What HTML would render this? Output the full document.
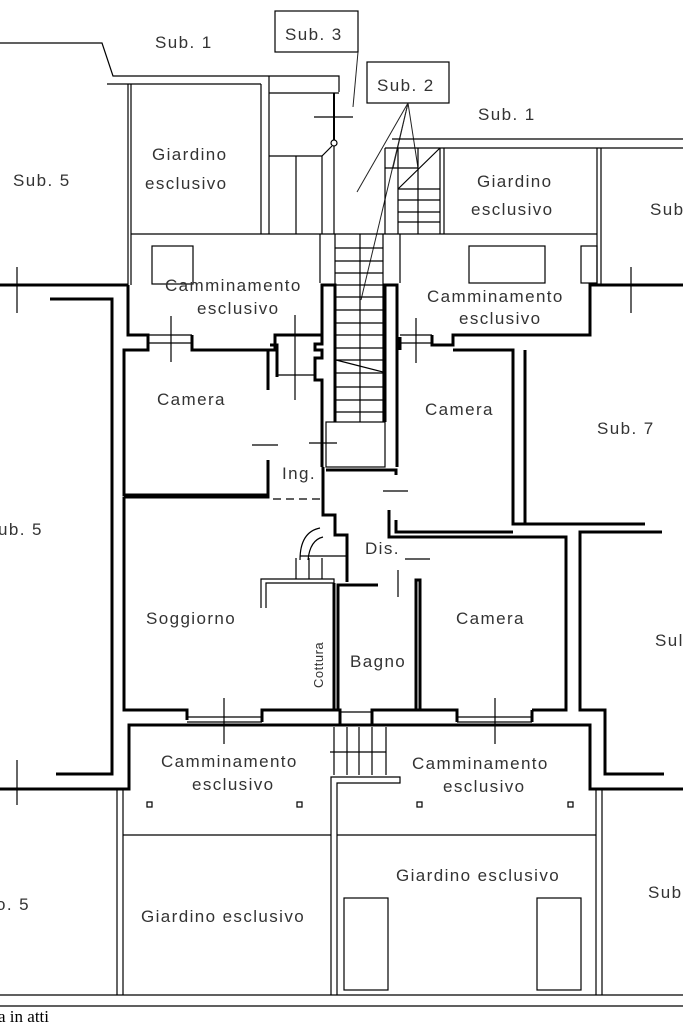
<!DOCTYPE html>
<html><head><meta charset="utf-8"><style>
html,body{margin:0;padding:0;background:#fff}
svg{display:block}
text{font-family:"Liberation Sans",sans-serif;fill:#333;font-size:17px;letter-spacing:1.4px}
.t{stroke:#000;stroke-width:1.2;fill:none}
.k{stroke:#000;stroke-width:3;fill:none}
.g{stroke:#222;stroke-width:1;fill:none}
</style></head><body>
<svg width="683" height="1024" viewBox="0 0 683 1024" xmlns="http://www.w3.org/2000/svg">
<polyline class="t" points="0,43 102,43 113,76 339,76 339,92"/>
<line class="t" x1="107" y1="84" x2="261" y2="84"/>
<line class="t" x1="128" y1="84" x2="128" y2="285"/>
<line class="t" x1="131" y1="84" x2="131" y2="285"/>
<line class="t" x1="261" y1="84" x2="261" y2="234"/>
<line class="t" x1="269" y1="76" x2="269" y2="234"/>
<line class="t" x1="269" y1="93" x2="339" y2="93"/>
<line class="t" x1="269" y1="156" x2="322" y2="156"/>
<line class="t" x1="322" y1="156" x2="332" y2="146"/>
<circle class="t" cx="334" cy="143" r="3"/>
<line class="k" style="stroke-width:2" x1="334" y1="93" x2="334" y2="140"/>
<line class="t" x1="334" y1="146" x2="334" y2="234"/>
<line class="t" x1="322" y1="156" x2="322" y2="234"/>
<line class="t" x1="296" y1="156" x2="296" y2="234"/>
<line class="t" x1="314" y1="117" x2="353" y2="117"/>
<rect class="t" x="275" y="11" width="83" height="41"/>
<text x="285" y="40">Sub. 3</text>
<line class="g" x1="358" y1="52" x2="353" y2="107"/>
<rect class="t" x="367" y="62" width="82" height="41"/>
<text x="377" y="91">Sub. 2</text>
<line class="g" x1="408" y1="103" x2="357" y2="192"/>
<line class="g" x1="408" y1="103" x2="361" y2="300"/>
<line class="g" x1="408" y1="103" x2="418" y2="168"/>
<line class="g" x1="408" y1="103" x2="393" y2="168"/>
<text x="155" y="48">Sub. 1</text>
<text x="478" y="120">Sub. 1</text>
<text x="13" y="186">Sub. 5</text>
<text x="650" y="215">Sub</text>
<line class="t" x1="392" y1="139" x2="683" y2="139"/>
<line class="t" x1="385" y1="148" x2="683" y2="148"/>
<line class="t" x1="385" y1="148" x2="385" y2="234"/>
<line class="t" x1="398" y1="148" x2="398" y2="234"/>
<line class="t" x1="440" y1="148" x2="440" y2="234"/>
<line class="t" x1="444" y1="148" x2="444" y2="234"/>
<line class="t" x1="418" y1="148" x2="418" y2="234"/>
<line class="t" x1="398" y1="189" x2="440" y2="189"/>
<line class="t" x1="398" y1="200" x2="440" y2="200"/>
<line class="t" x1="398" y1="212" x2="440" y2="212"/>
<line class="t" x1="398" y1="222" x2="440" y2="222"/>
<line class="t" x1="385" y1="168" x2="418" y2="168"/>
<line class="t" x1="398" y1="189" x2="440" y2="148"/>
<line class="t" x1="597" y1="148" x2="597" y2="285"/>
<line class="t" x1="601" y1="148" x2="601" y2="285"/>
<line class="t" x1="131" y1="234" x2="597" y2="234"/>
<text x="152" y="160">Giardino</text>
<text x="145" y="189">esclusivo</text>
<text x="477" y="187">Giardino</text>
<text x="471" y="215">esclusivo</text>
<rect class="t" x="152" y="246" width="41" height="38"/>
<rect class="t" x="469" y="246" width="76" height="37"/>
<rect class="t" x="581" y="246" width="16" height="37"/>
<line class="t" x1="320" y1="234" x2="320" y2="283"/>
<line class="t" x1="400" y1="234" x2="400" y2="283"/>
<line class="t" x1="335" y1="234" x2="335" y2="422"/>
<line class="t" x1="383" y1="234" x2="383" y2="422"/>
<line class="t" x1="360" y1="234" x2="360" y2="422"/>
<g class="t">
<line x1="335" y1="248" x2="383" y2="248"/><line x1="335" y1="261" x2="383" y2="261"/>
<line x1="335" y1="273" x2="383" y2="273"/><line x1="335" y1="285" x2="383" y2="285"/>
<line x1="335" y1="297" x2="383" y2="297"/><line x1="335" y1="310" x2="383" y2="310"/>
<line x1="335" y1="323" x2="383" y2="323"/><line x1="335" y1="335" x2="383" y2="335"/>
<line x1="335" y1="348" x2="383" y2="348"/><line x1="335" y1="360" x2="383" y2="360"/>
<line x1="335" y1="373" x2="383" y2="373"/><line x1="335" y1="387" x2="383" y2="387"/>
<line x1="335" y1="400" x2="383" y2="400"/><line x1="335" y1="412" x2="383" y2="412"/>
<line x1="336" y1="360" x2="383" y2="372"/>
</g>
<rect class="t" x="326" y="422" width="59" height="45"/>
<polyline class="k" points="322,467 322,425 322,380 315,380 315,358 322,358 322,350 315,350 315,344 322,344 322,285 335,285 335,422"/>
<polyline class="k" points="397,467 397,285 385,285 385,422"/>
<polyline class="k" points="326,470 396,470 396,475"/>
<line class="k" x1="400" y1="337" x2="400" y2="350"/>
<line class="t" x1="400" y1="335" x2="432" y2="335"/>
<line class="t" x1="400" y1="343" x2="432" y2="343"/>
<polyline class="k" points="432,335 432,345 453,345 453,335 590,335 590,285 601,285 683,285"/>
<line class="t" x1="631" y1="267" x2="631" y2="313"/>
<line class="t" x1="416" y1="318" x2="416" y2="363"/>
<line class="t" x1="295" y1="315" x2="295" y2="400"/>
<line class="t" x1="171" y1="316" x2="171" y2="362"/>
<line class="k" x1="0" y1="285" x2="128" y2="285"/>
<line class="t" x1="17" y1="267" x2="17" y2="313"/>
<polyline class="k" points="50,299 112,299 112,774 56,774"/>
<polyline class="k" points="128,285 128,335 148,335 148,350 124,350 124,495 268,495 268,460"/>
<line class="t" x1="148" y1="335" x2="192" y2="335"/>
<line class="t" x1="148" y1="343" x2="192" y2="343"/>
<polyline class="k" points="192,335 192,350 275,350 275,335 322,335"/>
<line class="k" x1="268" y1="350" x2="268" y2="390"/>
<polyline class="k" points="270,345 277,345 277,377"/>
<line class="t" x1="277" y1="375" x2="314" y2="375"/>
<line class="t" x1="252" y1="445" x2="278" y2="445"/>
<line class="t" x1="309" y1="443" x2="337" y2="443"/>
<line class="t" x1="273" y1="499" x2="322" y2="499" stroke-dasharray="8,5"/>
<polyline class="k" points="453,350 513,350 513,524 645,524"/>
<polyline class="k" points="396,520 396,532 513,532"/>
<polyline class="k" points="389,510 389,537 566,537 566,710 532,710"/>
<polyline class="k" points="662,532 580,532 580,710 605,710 605,774 664,774"/>
<line class="k" x1="525" y1="350" x2="525" y2="524"/>
<line class="t" x1="383" y1="491" x2="408" y2="491"/>
<polyline class="k" points="323,467 323,515 335,515 335,535 347,535 347,582"/>
<path class="t" d="M320,528 Q300,532 300,560 M323,537 Q310,540 308,560"/>
<line class="t" x1="300" y1="556" x2="347" y2="556"/>
<line class="t" x1="296" y1="558" x2="296" y2="579"/>
<line class="t" x1="309" y1="558" x2="309" y2="579"/>
<line class="t" x1="322" y1="558" x2="322" y2="579"/>
<polyline class="t" points="261,608 261,579 334,579 334,583 266,583 266,608"/>
<polyline class="k" points="334,583 334,710"/>
<polyline class="k" points="338,710 338,585 378,585"/>
<line class="t" x1="398" y1="570" x2="398" y2="597"/>
<line class="t" x1="405" y1="559" x2="430" y2="559"/>
<polyline class="k" points="416,710 416,580 420,580 420,710"/>
<polyline class="k" points="124,497 124,710 187,710 187,720"/>
<polyline class="k" points="124,497 268,497 268,465"/>
<line class="t" x1="187" y1="717" x2="262" y2="717"/>
<line class="t" x1="187" y1="722" x2="262" y2="722"/>
<polyline class="k" points="262,722 262,710 340,710 340,725"/>
<polyline class="k" points="372,725 372,710 420,710 457,710 457,722"/>
<line class="t" x1="340" y1="712" x2="372" y2="712"/>
<line class="t" x1="457" y1="717" x2="532" y2="717"/>
<line class="t" x1="457" y1="722" x2="532" y2="722"/>
<polyline class="k" points="532,722 532,710"/>
<line class="t" x1="224" y1="698" x2="224" y2="744"/>
<line class="t" x1="495" y1="698" x2="495" y2="744"/>
<polyline class="k" points="0,789 129,789 129,725 590,725 590,789 683,789"/>
<line class="t" x1="17" y1="760" x2="17" y2="805"/>
<g class="t">
<line x1="334" y1="727" x2="334" y2="775"/><line x1="347" y1="727" x2="347" y2="775"/>
<line x1="359" y1="727" x2="359" y2="775"/><line x1="372" y1="727" x2="372" y2="775"/>
<line x1="386" y1="727" x2="386" y2="775"/>
<line x1="330" y1="752" x2="386" y2="752"/>
<polyline points="331,995 331,777 400,777 400,783 337,783 337,995"/>
</g>
<line class="t" x1="117" y1="789" x2="117" y2="995"/>
<line class="t" x1="123" y1="789" x2="123" y2="995"/>
<line class="t" x1="596" y1="789" x2="596" y2="995"/>
<line class="t" x1="602" y1="789" x2="602" y2="995"/>
<line class="t" x1="123" y1="835" x2="331" y2="835"/>
<line class="t" x1="337" y1="835" x2="596" y2="835"/>
<line class="t" x1="0" y1="995" x2="683" y2="995"/>
<line class="t" x1="0" y1="1006" x2="683" y2="1006"/>
<rect class="t" x="344" y="898" width="44" height="92"/>
<rect class="t" x="537" y="898" width="44" height="92"/>
<rect class="t" x="147" y="802" width="5" height="5"/>
<rect class="t" x="297" y="802" width="5" height="5"/>
<rect class="t" x="417" y="802" width="5" height="5"/>
<rect class="t" x="568" y="802" width="5" height="5"/>
<text x="165" y="291">Camminamento</text>
<text x="197" y="314">esclusivo</text>
<text x="427" y="302">Camminamento</text>
<text x="459" y="324">esclusivo</text>
<text x="157" y="405">Camera</text>
<text x="425" y="415">Camera</text>
<text x="597" y="434">Sub. 7</text>
<text x="-2" y="535">ub. 5</text>
<text x="282" y="479">Ing.</text>
<text x="365" y="554">Dis.</text>
<text x="146" y="624">Soggiorno</text>
<text x="456" y="624">Camera</text>
<text x="655" y="646">Sul</text>
<text x="350" y="667">Bagno</text>
<text transform="translate(323,688) rotate(-90)" style="font-size:13px;letter-spacing:0.5px">Cottura</text>
<text x="161" y="767">Camminamento</text>
<text x="192" y="790">esclusivo</text>
<text x="412" y="769">Camminamento</text>
<text x="443" y="792">esclusivo</text>
<text x="396" y="881">Giardino esclusivo</text>
<text x="141" y="922">Giardino esclusivo</text>
<text x="-4" y="910">o. 5</text>
<text x="648" y="898">Sub</text>
<text x="-2" y="1022" style="font-family:'Liberation Serif',serif;font-size:17px;fill:#000;letter-spacing:0">a in atti</text>
</svg>
</body></html>
